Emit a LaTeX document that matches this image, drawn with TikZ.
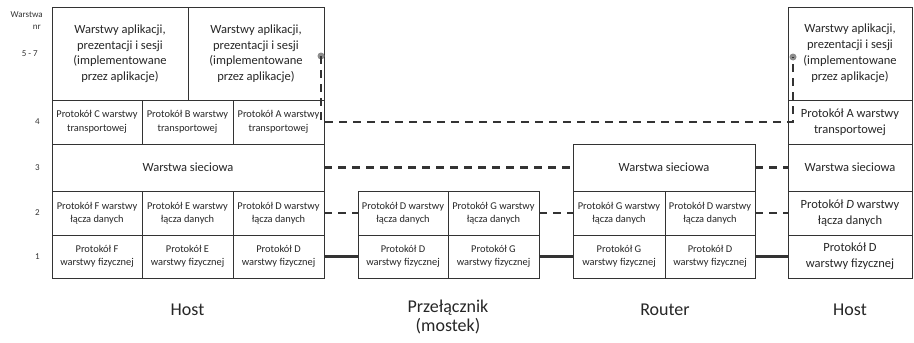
\documentclass[tikz,border=0pt]{standalone}
\usepackage{fontspec}
\setmainfont{Carlito}
\usetikzlibrary{positioning}

\tikzset{
  cell/.style={draw=black!80, line width=0.9pt, inner sep=1pt, outer sep=0pt,
    align=center, text=black!85, font=\fontsize{10.4}{13.5}\selectfont},
  bigcell/.style={cell, font=\fontsize{12.5}{15.5}\selectfont},
  midcell/.style={cell, font=\fontsize{12.5}{16}\selectfont},
  link/.style={line width=2.3pt, draw=black!80},
  dlink/.style={link, dash pattern=on 8pt off 6pt},
  lbl/.style={anchor=east, inner sep=0pt, font=\fontsize{9}{10}\selectfont, text=black!80},
  dev/.style={align=center, text=black!85, font=\fontsize{18}{19}\selectfont}
}

\begin{document}
\begin{tikzpicture}[x=1pt,y=-1pt]
  \useasboundingbox (0,0) rectangle (914,343);

  % host (left)
  \node[bigcell, anchor=north west, minimum width=136pt, minimum height=93pt] (app1) at (52,7)
    {Warstwy aplikacji,\\prezentacji i sesji\\(implementowane\\przez aplikacje)};
  \node[bigcell, right=0pt of app1, minimum width=136pt, minimum height=93pt] (app2)
    {Warstwy aplikacji,\\prezentacji i sesji\\(implementowane\\przez aplikacje)};

  \node[cell, below=0pt of app1.south west, anchor=north west, minimum width=90pt, minimum height=44pt] (tC)
    {Protokół C warstwy\\transportowej};
  \node[cell, right=0pt of tC, minimum width=91pt, minimum height=44pt] (tB)
    {Protokół B warstwy\\transportowej};
  \node[cell, right=0pt of tB, minimum width=91pt, minimum height=44pt] (tA)
    {Protokół A warstwy\\transportowej};

  \node[bigcell, below=0pt of tC.south west, anchor=north west, minimum width=272pt, minimum height=47pt] (net)
    {Warstwa sieciowa};

  \node[cell, below=0pt of net.south west, anchor=north west, minimum width=90pt, minimum height=44pt] (dlF)
    {Protokół F warstwy\\łącza danych};
  \node[cell, right=0pt of dlF, minimum width=91pt, minimum height=44pt] (dlE)
    {Protokół E warstwy\\łącza danych};
  \node[cell, right=0pt of dlE, minimum width=91pt, minimum height=44pt] (dlD)
    {Protokół D warstwy\\łącza danych};

  \node[cell, below=0pt of dlF.south west, anchor=north west, minimum width=90pt, minimum height=43pt] (phF)
    {Protokół F\\warstwy fizycznej};
  \node[cell, right=0pt of phF, minimum width=91pt, minimum height=43pt] (phE)
    {Protokół E\\warstwy fizycznej};
  \node[cell, right=0pt of phE, minimum width=91pt, minimum height=43pt] (phD)
    {Protokół D\\warstwy fizycznej};

  % switch
  \node[cell, anchor=north west, minimum width=90pt, minimum height=44pt] (sdlD) at (358,191)
    {Protokół D warstwy\\łącza danych};
  \node[cell, right=0pt of sdlD, minimum width=91pt, minimum height=44pt] (sdlG)
    {Protokół G warstwy\\łącza danych};
  \node[cell, below=0pt of sdlD, minimum width=90pt, minimum height=43pt] (sphD)
    {Protokół D\\warstwy fizycznej};
  \node[cell, right=0pt of sphD, minimum width=91pt, minimum height=43pt] (sphG)
    {Protokół G\\warstwy fizycznej};

  % router
  \node[bigcell, anchor=north west, minimum width=182pt, minimum height=47pt] (rnet) at (573,144)
    {Warstwa sieciowa};
  \node[cell, below=0pt of rnet.south west, anchor=north west, minimum width=92pt, minimum height=44pt] (rdlG)
    {Protokół G warstwy\\łącza danych};
  \node[cell, right=0pt of rdlG, minimum width=90pt, minimum height=44pt] (rdlD)
    {Protokół D warstwy\\łącza danych};
  \node[cell, below=0pt of rdlG, minimum width=92pt, minimum height=43pt] (rphG)
    {Protokół G\\warstwy fizycznej};
  \node[cell, right=0pt of rphG, minimum width=90pt, minimum height=43pt] (rphD)
    {Protokół D\\warstwy fizycznej};

  % host (right)
  \node[midcell, anchor=north west, minimum width=124pt, minimum height=93pt] (happ) at (788,7)
    {Warstwy aplikacji,\\prezentacji i sesji\\(implementowane\\przez aplikacje)};
  \node[midcell, below=0pt of happ, minimum width=124pt, minimum height=44pt] (htA)
    {Protokół A warstwy\\transportowej};
  \node[midcell, below=0pt of htA, minimum width=124pt, minimum height=47pt] (hnet)
    {Warstwa sieciowa};
  \node[midcell, below=0pt of hnet, minimum width=124pt, minimum height=44pt] (hdlD)
    {Protokół \textit{D} warstwy\\łącza danych};
  \node[midcell, below=0pt of hdlD, minimum width=124pt, minimum height=43pt] (hphD)
    {Protokół D\\warstwy fizycznej};

  % layer numbers
  \node[lbl] (nr1) at (43,15) {Warstwa};
  \node[lbl] (nr2) at (41,27) {nr};
  \node[lbl] (l57) at (38,54) {5 - 7};
  \node[lbl] (l4) at (40,0 |- tC) {4};
  \node[lbl] (l3) at (40,0 |- net) {3};
  \node[lbl] (l2) at (40,0 |- dlF) {2};
  \node[lbl] (l1) at (40,0 |- phF) {1};

  % device names
  \node[dev] (host1) at (phE.south |- 0,310) {Host};
  \node[dev] (switch) at (sdlD.south east |- 0,317) {Przełącznik\\(mostek)};
  \node[dev] (router) at (rdlG.south east |- 0,310) {Router};
  \node[dev] (host2) at (hphD.south |- 0,310) {Host};

  % peer connections
  \coordinate (ldot) at (321,56);
  \coordinate (rdot) at (793,57);
  \fill[black!45] (ldot) circle (3.5pt);
  \fill[black!45] (rdot) circle (3.5pt);
  \draw[dlink] (ldot) -- (ldot |- tA.east) -- (htA.west -| rdot) -- (rdot);

  \draw[dlink] (net.east) -- (rnet.west);
  \draw[dlink] (rnet.east) -- (hnet.west);

  \draw[dlink] (dlD.east) -- (sdlD.west);
  \draw[dlink] (sdlG.east) -- (rdlG.west);
  \draw[dlink] (rdlD.east) -- (hdlD.west);

  \draw[link] (phD.east) -- (sphD.west);
  \draw[link] (sphG.east) -- (rphG.west);
  \draw[link] (rphD.east) -- (hphD.west);

\end{tikzpicture}
\end{document}
